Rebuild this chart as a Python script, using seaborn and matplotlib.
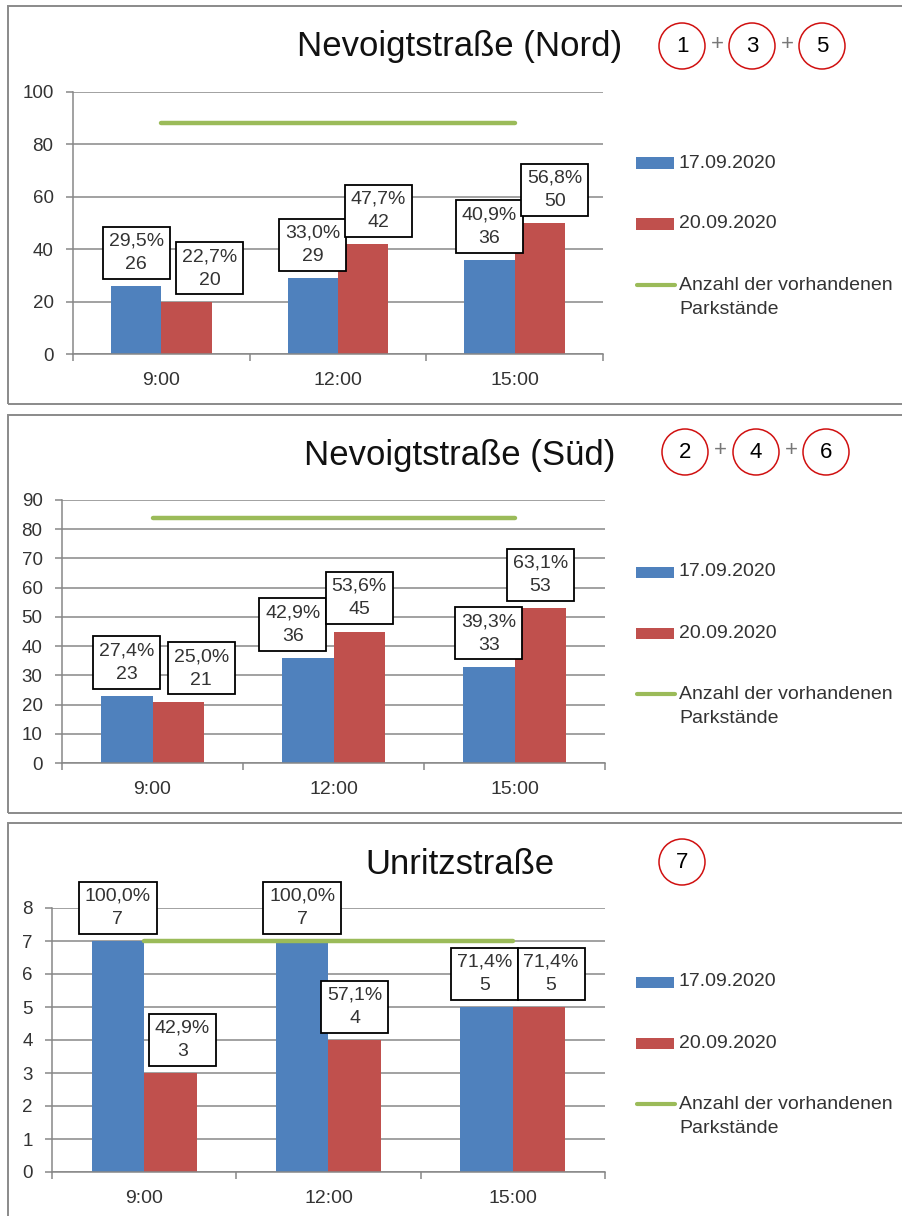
import numpy as np
import pandas as pd
import matplotlib
matplotlib.use("Agg")
import matplotlib.pyplot as plt
import seaborn as sns
from matplotlib.patches import Rectangle, Ellipse
from matplotlib.lines import Line2D

# --- data ---
hours = ["9:00", "12:00", "15:00"]
dates = ["17.09.2020", "20.09.2020"]
titles = ["Nevoigtstraße (Nord)", "Nevoigtstraße (Süd)", "Unritzstraße"]
capacity = [88, 84, 7]
nord_1709 = [26, 29, 36]
nord_2009 = [20, 42, 50]
sued_1709 = [23, 36, 33]
sued_2009 = [21, 45, 53]
unritz_1709 = [7, 7, 5]
unritz_2009 = [3, 4, 5]
y_max = [100, 90, 8]
y_step = [20, 10, 1]
circle_labels = [["1", "3", "5"], ["2", "4", "6"], ["7"]]
line_label = "Anzahl der vorhandenen\nParkstände"

series = [(nord_1709, nord_2009), (sued_1709, sued_2009), (unritz_1709, unritz_2009)]

# --- styling / layout (pixels, top-left origin) ---
BLUE, RED, GREEN = "#4f81bd", "#c0504d", "#9bbb59"
GRAY = "#878787"
TXT = "#333333"
W, H = 902, 1216
PT = 0.72  # points per pixel at dpi 100
AXES_PX = [(73, 92, 603, 354), (62, 500, 605, 763), (52, 908, 605, 1172)]
FRAMES_PX = [(8, 6, 404), (8, 415, 813), (8, 823, 1240)]
TITLE_X = 460
TITLE_Y = [56, 465, 874]
CIRCLE_Y = [46, 452, 862]
CIRCLE_X = [[682, 752, 822], [685, 756, 826], [682]]
LEGEND_Y = [163, 572, 982]
# horizontal nudges of the value boxes (px), per series
LABEL_DX = [[[0, 0, 0], [23, 15, 15]],
            [[0, -15, 0], [23, 0, 0]],
            [[0, 0, -2], [12, 0, 12]]]


def fx(x):
    return x / W


def fy(y):
    return 1 - y / H


sns.set_theme(style="white")
plt.rcParams["font.family"] = ["Liberation Sans", "DejaVu Sans"]

fig = plt.figure(figsize=(W / 100, H / 100), dpi=100)

for p in range(3):
    # panel frame
    x0, y0, y1 = FRAMES_PX[p]
    fig.add_artist(Rectangle((fx(x0), fy(y1)), (1000 - x0) / W, (y1 - y0) / H,
                             transform=fig.transFigure, fill=False,
                             ec="#8a8a8a", lw=1.4))

    left, top, right, bottom = AXES_PX[p]
    ax = fig.add_axes([fx(left), fy(bottom), (right - left) / W, (bottom - top) / H])

    a, b = series[p]
    df = pd.DataFrame({"Uhrzeit": hours * 2,
                       "Datum": np.repeat(dates, len(hours)),
                       "Anzahl": a + b})
    sns.barplot(data=df, x="Uhrzeit", y="Anzahl", hue="Datum",
                palette=[BLUE, RED], saturation=1, width=0.57, gap=0,
                errorbar=None, legend=False, ax=ax, zorder=2, linewidth=0)
    sns.lineplot(x=np.arange(len(hours)), y=[capacity[p]] * len(hours),
                 color=GREEN, lw=3.2, ax=ax, zorder=3, solid_capstyle="round")

    # value boxes
    for s, cont in enumerate(ax.containers):
        for k, bar in enumerate(cont):
            v = bar.get_height()
            xc = bar.get_x() + bar.get_width() / 2
            pct = f"{v / capacity[p] * 100:.1f}".replace(".", ",")
            ax.annotate(f"{pct}%\n{int(round(v))}", xy=(xc, v),
                        xytext=(LABEL_DX[p][s][k] * PT, 13 * PT),
                        textcoords="offset points", ha="center", va="bottom",
                        fontsize=14, color=TXT, zorder=5, annotation_clip=False,
                        linespacing=1.5,
                        bbox=dict(boxstyle="square,pad=0.3", fc="white",
                                  ec="black", lw=1.3))

    ax.set_xlim(-0.5, len(hours) - 0.5)
    ax.set_ylim(0, y_max[p])
    ax.set_yticks(np.arange(0, y_max[p] + y_step[p], y_step[p]))
    ax.set_xticks(np.arange(-0.5, len(hours), 1.0), minor=True)
    ax.set_xlabel("")
    ax.set_ylabel("")
    ax.tick_params(axis="x", which="major", length=0, pad=13, labelsize=14, labelcolor=TXT)
    ax.tick_params(axis="x", which="minor", bottom=True, length=5, width=1.1, color=GRAY)
    ax.tick_params(axis="y", left=True, length=5, width=1.1, color=GRAY, pad=9,
                   labelsize=13.5, labelcolor=TXT)
    ax.yaxis.grid(True, color=GRAY, lw=1.1)
    ax.set_axisbelow(True)
    for side in ["top", "right"]:
        ax.spines[side].set_visible(False)
    for side in ["left", "bottom"]:
        ax.spines[side].set_color(GRAY)
        ax.spines[side].set_linewidth(1.1)

    # title and circled numbers
    fig.text(fx(TITLE_X), fy(TITLE_Y[p]), titles[p], ha="center", va="baseline",
             fontsize=25, color="#111111")
    xs = CIRCLE_X[p]
    cy = CIRCLE_Y[p]
    for lab, cx in zip(circle_labels[p], xs):
        fig.add_artist(Ellipse((fx(cx), fy(cy)), 46 / W, 46 / H,
                               transform=fig.transFigure, fill=False,
                               ec="#d01010", lw=1.1))
        fig.text(fx(cx), fy(cy), lab, ha="center", va="center", fontsize=16, color="black")
    for c1, c2 in zip(xs[:-1], xs[1:]):
        fig.text(fx((c1 + c2) / 2), fy(cy - 1), "+", ha="center", va="center",
                 fontsize=16, color="#777777")

    # legend
    ly = LEGEND_Y[p]
    for i, col in enumerate([BLUE, RED]):
        y = ly + i * 61
        fig.add_artist(Rectangle((fx(636), fy(y + 5.5)), 38 / W, 11 / H,
                                 transform=fig.transFigure, fc=col, ec="none"))
        fig.text(fx(679), fy(y), dates[i], ha="left", va="center", fontsize=14, color=TXT)
    y = ly + 122
    fig.add_artist(Line2D([fx(637), fx(675)], [fy(y), fy(y)], transform=fig.transFigure,
                          color=GREEN, lw=3, solid_capstyle="round"))
    fig.text(fx(679), fy(y + 12.5), line_label, ha="left", va="center", fontsize=14,
             color=TXT, linespacing=1.6)

fig.savefig("out.png", dpi=100)
